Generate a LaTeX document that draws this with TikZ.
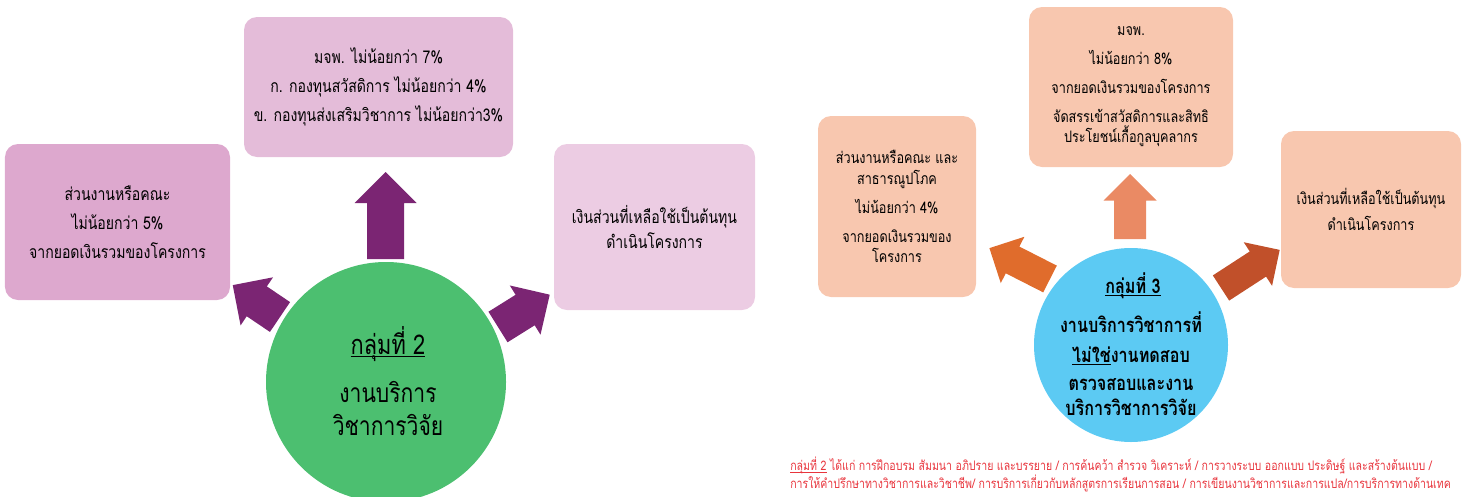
\documentclass[tikz,border=0pt]{standalone}
\usepackage{fontspec}
\usepackage{tikz}
\usetikzlibrary{positioning,shapes}
\newfontfamily\thai[Script=Thai, FakeStretch=0.8]{Loma}

\definecolor{plumA}{HTML}{DDA8CE}
\definecolor{plumB}{HTML}{E4BCD9}
\definecolor{plumC}{HTML}{ECCCE3}
\definecolor{plumArrow}{HTML}{7B2573}
\definecolor{greenC}{HTML}{4CBF70}
\definecolor{peach}{HTML}{F8C7AF}
\definecolor{orangeUp}{HTML}{EA8A64}
\definecolor{orangeL}{HTML}{E06C2C}
\definecolor{orangeR}{HTML}{C1502A}
\definecolor{skyC}{HTML}{5CCAF3}
\definecolor{footred}{HTML}{E8353D}

\tikzstyle{box}   = [rectangle, rounded corners=2.6mm, align=center, inner sep=0pt, text=black]
\tikzstyle{gbox}  = [box, font=\thai\fontsize{10}{12}\selectfont]
\tikzstyle{obox}  = [box, fill=peach, font=\thai\fontsize{9}{11.5}\selectfont]
\tikzstyle{bigc}  = [circle, draw=none, inner sep=0pt]
\tikzstyle{ctxt}  = [anchor=base, inner sep=0pt, font=\thai\fontsize{15}{18}\selectfont]
\tikzstyle{stxt}  = [anchor=base, inner sep=0pt, font=\thai\bfseries\fontsize{11.5}{14}\selectfont]
\tikzstyle{foot}  = [anchor=base west, text=footred, inner sep=0pt,
                     font=\thai\fontsize{7.5}{10.2}\selectfont]

% underline close to the baseline
\newcommand{\thaiul}[1]{\underline{\smash{#1}}}

% colour, base point, angle, length, shaft width, head width
\newcommand{\blockarrow}[6]{
  \fill[#1, shift={#2}, rotate=#3]
    (0,{-#5/2}) -- ({#4-#6/2},{-#5/2}) -- ({#4-#6/2},{-#6/2}) -- (#4,0)
    -- ({#4-#6/2},{#6/2}) -- ({#4-#6/2},{#5/2}) -- (0,{#5/2}) -- cycle;
}

\begin{document}
\begin{tikzpicture}[x=0.2mm, y=-0.2mm]
	\useasboundingbox (0,0) rectangle (1462,497);

	% group 2
	\node[gbox, fill=plumA, minimum width=45mm, minimum height=31.2mm] (g2left) at (117.5,222)
		{ส่วนงานหรือคณะ\\[4.5pt] ไม่น้อยกว่า 5\%\\[4.5pt] จากยอดเงินรวมของโครงการ};
	\node[gbox, fill=plumB, minimum width=53.8mm, minimum height=28mm] (g2top) at (378.5,87)
		{มจพ. ไม่น้อยกว่า 7\%\\[4.5pt] ก. กองทุนสวัสดิการ ไม่น้อยกว่า 4\%\\[4.5pt] ข. กองทุนส่งเสริมวิชาการ ไม่น้อยกว่า3\%};
	\node[gbox, fill=plumC, minimum width=40.2mm, minimum height=33.2mm] (g2right) at (654.5,227)
		{เงินส่วนที่เหลือใช้เป็นต้นทุน\\[2pt] ดำเนินโครงการ};
	\node[bigc, fill=greenC, minimum size=48mm] (g2) at (386,382) {};
	\node[ctxt, font=\thai\fontsize{15.5}{18}\selectfont] (g2title) at (388,354) {\thaiul{กลุ่มที่ 2}};
	\node[ctxt] (g2a) at (388,402) {งานบริการ};
	\node[ctxt] (g2b) at (388,435) {วิชาการวิจัย};

	\blockarrow{plumArrow}{(385.5,259)}{90}{87}{37}{62}
	\blockarrow{plumArrow}{(280,317)}{146}{57}{36}{58}
	\blockarrow{plumArrow}{(498,327)}{32}{61}{36}{58}

	% group 3
	\node[obox, minimum width=31.6mm, minimum height=36.2mm] (g3left) at (897,206.5)
		{ส่วนงานหรือคณะ และ\\ สาธารณูปโภค\\[5pt] ไม่น้อยกว่า 4\%\\[5pt] จากยอดเงินรวมของ\\ โครงการ};
	\node[obox, minimum width=40.8mm, minimum height=32mm] (g3top) at (1131,87)
		{มจพ.\\[5pt] ไม่น้อยกว่า 8\%\\[5pt] จากยอดเงินรวมของโครงการ\\[5pt] จัดสรรเข้าสวัสดิการและสิทธิ\\ ประโยชน์เกื้อกูลบุคลากร};
	\node[obox, minimum width=36mm, minimum height=31.4mm] (g3right) at (1371,209.5)
		{เงินส่วนที่เหลือใช้เป็นต้นทุน\\[3pt] ดำเนินโครงการ};
	\node[bigc, fill=skyC, minimum size=38.8mm] (g3) at (1131,345) {};
	\node[stxt] (g3title) at (1133,293) {\thaiul{กลุ่มที่ 3}};
	\node[stxt] (g3a) at (1131,332) {งานบริการวิชาการที่};
	\node[stxt] (g3b) at (1131,362) {\thaiul{ไม่ใช่}งานทดสอบ};
	\node[stxt] (g3c) at (1131,390) {ตรวจสอบและงาน};
	\node[stxt] (g3d) at (1131,415) {บริการวิชาการวิจัย};

	\blockarrow{orangeUp}{(1130,239)}{90}{65}{32}{53}
	\blockarrow{orangeL}{(1050,279)}{153}{68}{30}{52}
	\blockarrow{orangeR}{(1221,288)}{33}{70}{30}{52}

	% note
	\node[foot] (note1) at (790,470)
		{\thaiul{กลุ่มที่ 2} ได้แก่ การฝึกอบรม สัมมนา อภิปราย และบรรยาย / การค้นคว้า สำรวจ วิเคราะห์ / การวางระบบ ออกแบบ ประดิษฐ์ และสร้างต้นแบบ /};
	\node[foot] (note2) at (790,488)
		{การให้คำปรึกษาทางวิชาการและวิชาชีพ/ การบริการเกี่ยวกับหลักสูตรการเรียนการสอน / การเขียนงานวิชาการและการแปล/การบริการทางด้านเทค};
\end{tikzpicture}
\end{document}
